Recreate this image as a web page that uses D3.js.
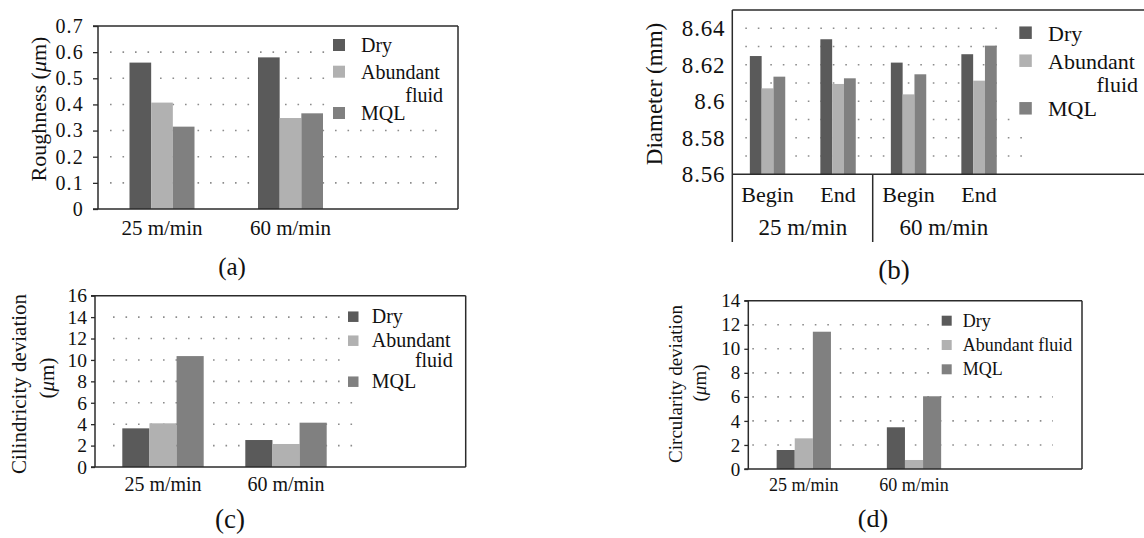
<!DOCTYPE html>
<html>
<head>
<meta charset="utf-8">
<script src="https://cdn.jsdelivr.net/npm/d3@7"></script>
<style>
  body { margin: 0; background: #fff; }
  svg { display: block; font-family: "Liberation Serif", "Times New Roman", serif; }
</style>
</head>
<body>
<svg id="chart"></svg>
<script>
const svg = d3.select("#chart").attr("width", 1144).attr("height", 538);
svg.append("rect").attr("width", 1144).attr("height", 538).attr("fill", "#fff");

// données
const speeds = ["25 m/min", "60 m/min"];
const stages = ["Begin", "End"];
const fluids = ["Dry", "Abundant fluid", "MQL"];
const fluidColors = ["#5a5a5a", "#b1b1b1", "#808080"];

// [Dry, Abundant fluid, MQL] par vitesse
const roughness = [[0.56, 0.407, 0.315], [0.58, 0.348, 0.366]];
const roughnessTicks = [0, 0.1, 0.2, 0.3, 0.4, 0.5, 0.6, 0.7];

// Begin/End pour 25 puis 60 m/min
const diameter = [
  [8.6248, 8.6071, 8.6135],
  [8.634, 8.6095, 8.6126],
  [8.6212, 8.6038, 8.6148],
  [8.6258, 8.6113, 8.6305]
];
const diameterTicks = [8.56, 8.58, 8.6, 8.62, 8.64];
const diameterGrid = [8.57, 8.58, 8.59, 8.6, 8.61, 8.62, 8.63, 8.64];

const cylindricity = [[3.61, 4.08, 10.36], [2.52, 2.15, 4.14]];
const cylTicks = [0, 2, 4, 6, 8, 10, 12, 14, 16];

const circularity = [[1.58, 2.55, 11.42], [3.47, 0.75, 6.05]];
const circTicks = [0, 2, 4, 6, 8, 10, 12, 14];

const fmt = d => String(+d.toFixed(2));
const ink = "#111";
const axisCol = "#2b2b2b";

// Dessine un panneau
function drawPanel(c) {
  const g = svg.append("g");
  const y = d3.scaleLinear().domain(c.yDomain).range(c.yRange);
  const x = d3.scaleBand().domain(c.cats).range(c.band);
  const xi = d3.scaleBand().domain(fluids).range([0, c.groupW]);
  const y0 = y(c.yDomain[0]);
  const yTop = y(c.yDomain[1]);

  // grille pointillée
  g.selectAll(".grid").data(c.grid).enter().append("line")
    .attr("x1", c.axisX + c.gridStart)
    .attr("x2", d => c.gridEnd(d))
    .attr("y1", d => y(d)).attr("y2", d => y(d))
    .attr("stroke", "#8c8c8c").attr("stroke-width", 1.6)
    .attr("stroke-dasharray", "1.6 10.9");

  // barres
  const grp = g.selectAll(".grp").data(c.data).enter().append("g")
    .attr("transform", (d, i) => `translate(${x(c.cats[i]) + x.bandwidth() / 2 - c.groupW / 2},0)`);
  grp.selectAll("rect").data(d => d).enter().append("rect")
    .attr("x", (d, j) => xi(fluids[j]))
    .attr("width", xi.bandwidth())
    .attr("y", d => y(d))
    .attr("height", d => y0 - y(d))
    .attr("fill", (d, j) => fluidColors[j]);

  // cadre et axes
  const ax = c.axisX;
  g.append("line").attr("x1", ax).attr("x2", ax).attr("y1", yTop).attr("y2", c.axisBottom || y0)
    .attr("stroke", axisCol).attr("stroke-width", 1.5);
  g.append("line").attr("x1", ax - c.tickLen).attr("x2", c.boxRight).attr("y1", y0).attr("y2", y0)
    .attr("stroke", axisCol).attr("stroke-width", 1.5);
  g.append("line").attr("x1", ax - c.tickLen).attr("x2", c.boxRight).attr("y1", yTop).attr("y2", yTop)
    .attr("stroke", axisCol).attr("stroke-width", 1.5);
  if (c.rightBorder) {
    g.append("line").attr("x1", c.boxRight).attr("x2", c.boxRight).attr("y1", yTop).attr("y2", y0)
      .attr("stroke", axisCol).attr("stroke-width", 1.5);
  }

  // graduations
  const axis = d3.axisLeft(y).tickValues(c.ticks).tickFormat(fmt)
    .tickSize(c.tickLen).tickPadding(c.tickPad);
  const ag = g.append("g").attr("transform", `translate(${ax},0)`).call(axis);
  ag.select(".domain").remove();
  ag.selectAll(".tick line").attr("stroke", axisCol).attr("stroke-width", 1.3);
  ag.selectAll("text").attr("font-size", c.tickFont).attr("fill", ink)
    .attr("font-family", "Liberation Serif")
    .attr("letter-spacing", c.tickSpacing || 0);

  // étiquettes de catégories
  g.selectAll(".xl").data(c.cats).enter().append("text")
    .attr("x", d => x(d) + x.bandwidth() / 2)
    .attr("y", c.xLabelY)
    .attr("text-anchor", "middle")
    .attr("font-size", c.xFont).attr("fill", ink)
    .text(d => d.split("|").pop());

  // légende
  const lg = g.selectAll(".lg").data(fluids).enter().append("g");
  lg.append("rect")
    .attr("x", c.legend.x)
    .attr("y", (d, i) => c.legend.rows[i] - c.legend.size / 2)
    .attr("width", c.legend.size).attr("height", c.legend.size)
    .attr("fill", (d, i) => fluidColors[i]);
  lg.each(function (d, i) {
    const t = d3.select(this).append("text")
      .attr("font-size", c.legend.font).attr("fill", ink);
    if (c.legend.split && d === "Abundant fluid") {
      t.append("tspan").attr("x", c.legend.tx).attr("y", c.legend.rows[i] + c.legend.dy).text("Abundant");
      t.append("tspan").attr("x", c.legend.fluidX).attr("y", c.legend.fluidY)
        .attr("text-anchor", "end").text("fluid");
    } else {
      t.attr("x", c.legend.tx).attr("y", c.legend.rows[i] + c.legend.dy).text(d);
    }
  });

  // titre de l'axe y
  c.yTitle.forEach(tl => {
    const t = g.append("text")
      .attr("transform", `translate(${tl.x},${tl.y}) rotate(-90)`)
      .attr("text-anchor", "middle")
      .attr("font-size", c.yFont).attr("fill", ink);
    tl.parts.forEach(p => {
      const s = t.append("tspan").text(p.t);
      if (p.it) s.attr("font-style", "italic");
    });
  });

  // lettre du panneau
  g.append("text").attr("x", c.letter.x).attr("y", c.letter.y)
    .attr("text-anchor", "middle").attr("font-size", c.letter.size).attr("fill", ink)
    .text(c.letter.t);
  return { g, x };
}

// (a) rugosité
drawPanel({
  yDomain: [0, 0.7], yRange: [209, 26],
  ticks: roughnessTicks, grid: [0.1, 0.2, 0.3, 0.4, 0.5, 0.6],
  gridStart: 12, gridEnd: d => d >= 0.4 ? 326 : 443,
  axisX: 98, boxRight: 458, rightBorder: true,
  cats: speeds, band: [97.75, 354.75], groupW: 65,
  data: roughness, tickLen: 5, tickPad: 9, tickFont: 20, tickSpacing: 1.2,
  xLabelY: 235, xFont: 21,
  legend: { x: 333, size: 12, rows: [45, 71.7, 113], tx: 361, dy: 7, font: 20,
            split: true, fluidX: 443, fluidY: 101.5 },
  yFont: 22,
  yTitle: [{ x: 46, y: 109, parts: [{ t: "Roughness (" }, { t: "μ", it: true }, { t: "m)" }] }],
  letter: { x: 232, y: 275, t: "(a)", size: 25 }
});

// (b) diamètre
const diamCats = [];
speeds.forEach(s => stages.forEach(st => diamCats.push(s + "|" + st)));
const pb = drawPanel({
  yDomain: [8.56, 8.65], yRange: [174.3, 10.05],
  ticks: diameterTicks, grid: diameterGrid,
  gridStart: 13, gridEnd: d => d >= 8.595 ? 1004 : (d >= 8.585 ? 1020 : 1029),
  axisX: 732.3, boxRight: 1144, rightBorder: false, axisBottom: 242,
  cats: diamCats, band: [732.3, 1014.3], groupW: 35.4,
  data: diameter, tickLen: 0, tickPad: 7, tickFont: 23, tickSpacing: 0.8,
  xLabelY: 202, xFont: 22,
  legend: { x: 1019.3, size: 12.5, rows: [32.7, 60.7, 108.3], tx: 1048, dy: 8, font: 22,
            split: true, fluidX: 1138, fluidY: 91.5 },
  yFont: 23,
  yTitle: [{ x: 662, y: 94, parts: [{ t: "Diameter (mm)" }] }],
  letter: { x: 894, y: 279, t: "(b)", size: 27 }
});
// second niveau de l'axe x
pb.g.append("line").attr("x1", 872.7).attr("x2", 872.7).attr("y1", 174.3).attr("y2", 242)
  .attr("stroke", axisCol).attr("stroke-width", 1.5);
pb.g.selectAll(".spd").data(speeds).enter().append("text")
  .attr("x", (d, i) => (pb.x(diamCats[i * 2]) + pb.x(diamCats[i * 2 + 1]) + pb.x.bandwidth()) / 2)
  .attr("y", 235).attr("text-anchor", "middle").attr("font-size", 23).attr("fill", ink)
  .text(d => d);

// (c) cylindricité
drawPanel({
  yDomain: [0, 16], yRange: [467, 295.7],
  ticks: cylTicks, grid: [2, 4, 6, 8, 10, 12, 14],
  gridStart: 18, gridEnd: d => d >= 8 ? 345 : 362,
  axisX: 95, boxRight: 465.7, rightBorder: true,
  cats: speeds, band: [101.5, 347.5], groupW: 81.4,
  data: cylindricity, tickLen: 4, tickPad: 4, tickFont: 19.5,
  xLabelY: 491, xFont: 20,
  legend: { x: 348, size: 10.5, rows: [316.7, 340.7, 381.7], tx: 371.7, dy: 6.5, font: 20,
            split: true, fluidX: 452.7, fluidY: 367.3 },
  yFont: 21,
  yTitle: [
    { x: 26, y: 384, parts: [{ t: "Cilindricity deviation" }] },
    { x: 54, y: 378, parts: [{ t: "(" }, { t: "μ", it: true }, { t: "m)" }] }
  ],
  letter: { x: 230, y: 528, t: "(c)", size: 27 }
});

// (d) circularité
drawPanel({
  yDomain: [0, 14], yRange: [469, 300.7],
  ticks: circTicks, grid: [2, 4, 6, 8, 10, 12],
  gridStart: 4, gridEnd: d => d >= 8 ? 938 : 1053,
  axisX: 748.3, boxRight: 1082, rightBorder: true,
  cats: speeds, band: [748.7, 969.1], groupW: 54.3,
  data: circularity, tickLen: 4, tickPad: 4, tickFont: 19,
  xLabelY: 491, xFont: 18,
  legend: { x: 941.7, size: 10, rows: [320.7, 345, 369.3], tx: 962.7, dy: 6, font: 18,
            split: false },
  yFont: 19,
  yTitle: [
    { x: 682, y: 384, parts: [{ t: "Circularity deviation" }] },
    { x: 706, y: 383, parts: [{ t: "(" }, { t: "μ", it: true }, { t: "m)" }] }
  ],
  letter: { x: 873, y: 527, t: "(d)", size: 26 }
});
</script>
</body>
</html>
